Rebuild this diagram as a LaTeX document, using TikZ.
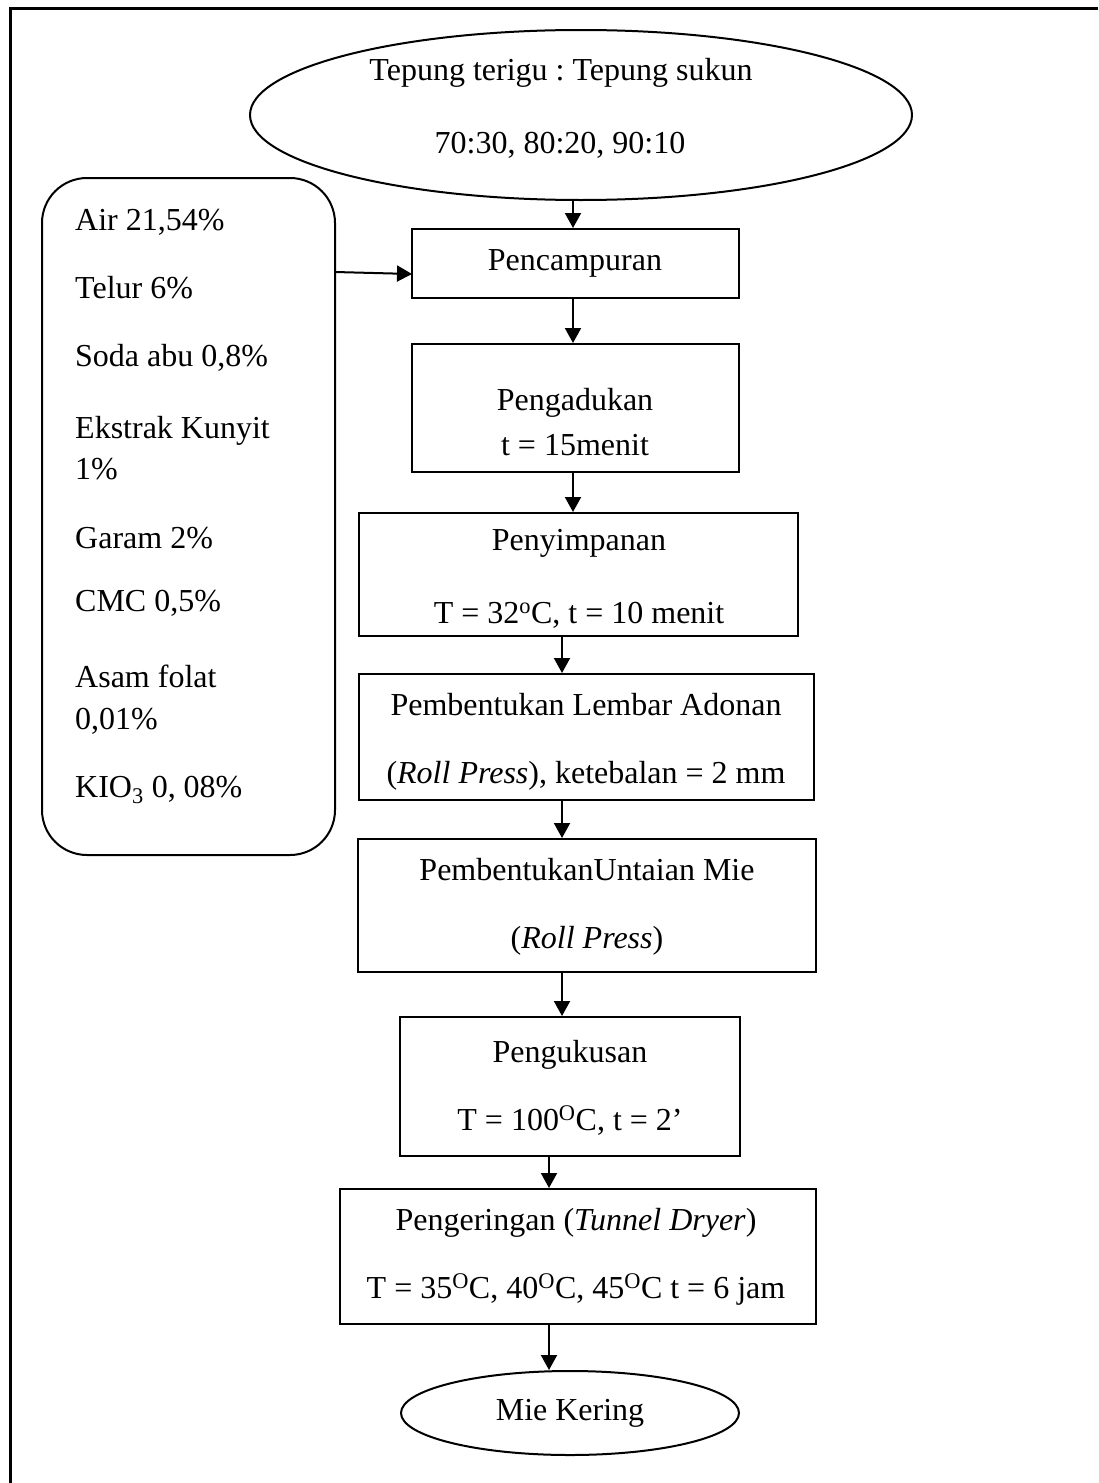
\documentclass[tikz,border=0pt]{standalone}
\usepackage{fontspec}
\setmainfont{Liberation Serif}
\usetikzlibrary{shapes.geometric,arrows.meta}
\frenchspacing
\begin{document}
\begin{tikzpicture}[x=1pt,y=-1pt,
  every node/.style={font=\fontsize{32}{38}\selectfont},
  proc/.style={draw,line width=2pt,rectangle,inner sep=0pt},
  term/.style={draw,line width=2pt,ellipse,inner sep=0pt},
  inbox/.style={draw,line width=2pt,rectangle,rounded corners=45pt,inner sep=0pt},
  lbl/.style={anchor=base,inner sep=0pt},
  ing/.style={anchor=base west,inner sep=0pt},
  arr/.style={line width=2pt,-{Triangle[length=15pt,width=16pt]}}]
\useasboundingbox (0,0) rectangle (1098,1483);
\fill[white] (0,0) rectangle (1098,1483);
\draw[line width=3pt] (1098,8) -- (10,8) -- (10,1483);

% start ellipse
\node[term, minimum width=662pt, minimum height=170pt] (start) at (581,115) {};
\node[lbl] (startA) at (561,80) {Tepung terigu : Tepung sukun};
\node[lbl] (startB) at (560,153) {70:30, 80:20, 90:10};

% ingredients box
\node[inbox, minimum width=293pt, minimum height=677pt] (inputs) at (188.5,516.5) {};
\node[ing] (i1) at (75,230) {Air 21,54\%};
\node[ing] (i2) at (75,298) {Telur 6\%};
\node[ing] (i3) at (75,366) {Soda abu 0,8\%};
\node[ing] (i4) at (75,438) {Ekstrak Kunyit};
\node[ing] (i5) at (75,479) {1\%};
\node[ing] (i6) at (75,548) {Garam 2\%};
\node[ing] (i7) at (75,611) {CMC 0,5\%};
\node[ing] (i8) at (75,687) {Asam folat};
\node[ing] (i9) at (75,729) {0,01\%};
\node[ing] (i10) at (75,797) {KIO\textsubscript{3} 0, 08\%};

% process boxes
\node[proc, minimum width=327pt, minimum height=69pt] (b1) at (575.5,263.5) {};
\node[lbl] (b1a) at (575,270) {Pencampuran};

\node[proc, minimum width=327pt, minimum height=128pt] (b2) at (575.5,408) {};
\node[lbl] (b2a) at (575,410) {Pengadukan};
\node[lbl] (b2b) at (575,455) {t = 15menit};

\node[proc, minimum width=439pt, minimum height=123pt] (b3) at (578.5,574.5) {};
\node[lbl] (b3a) at (579,550) {Penyimpanan};
\node[lbl] (b3b) at (579,623) {T = 32\textsuperscript{o}C, t = 10 menit};

\node[proc, minimum width=455pt, minimum height=126pt] (b4) at (586.5,737) {};
\node[lbl] (b4a) at (586,715) {Pembentukan Lembar Adonan};
\node[lbl] (b4b) at (586,783) {(\textit{Roll Press}), ketebalan = 2 mm};

\node[proc, minimum width=458pt, minimum height=133pt] (b5) at (587,905.5) {};
\node[lbl] (b5a) at (587,880) {PembentukanUntaian Mie};
\node[lbl] (b5b) at (587,948) {(\textit{Roll Press})};

\node[proc, minimum width=340pt, minimum height=139pt] (b6) at (570,1086.5) {};
\node[lbl] (b6a) at (570,1062) {Pengukusan};
\node[lbl] (b6b) at (570,1130) {T = 100\textsuperscript{O}C, t = 2’};

\node[proc, minimum width=476pt, minimum height=135pt] (b7) at (578,1256.5) {};
\node[lbl] (b7a) at (576,1230) {Pengeringan (\textit{Tunnel Dryer})};
\node[lbl] (b7b) at (576,1298) {T = 35\textsuperscript{O}C, 40\textsuperscript{O}C, 45\textsuperscript{O}C t = 6 jam};

\node[term, minimum width=338pt, minimum height=84pt] (finish) at (570,1413) {};
\node[lbl] (finisha) at (570,1420) {Mie Kering};

% connector columns
\coordinate (xa) at (573,0);
\coordinate (xb) at (562,0);
\coordinate (xc) at (549,0);
\coordinate (inpout) at (335,272);
\coordinate (mixin) at (412,274);

\draw[arr] (start.south -| xa) -- (b1.north -| xa);
\draw[arr] (inpout) -- (mixin);
\draw[arr] (b1.south -| xa) -- (b2.north -| xa);
\draw[arr] (b2.south -| xa) -- (b3.north -| xa);
\draw[arr] (b3.south -| xb) -- (b4.north -| xb);
\draw[arr] (b4.south -| xb) -- (b5.north -| xb);
\draw[arr] (b5.south -| xb) -- (b6.north -| xb);
\draw[arr] (b6.south -| xc) -- (b7.north -| xc);
\draw[arr] (b7.south -| xc) -- (finish.north -| xc);
\end{tikzpicture}
\end{document}
